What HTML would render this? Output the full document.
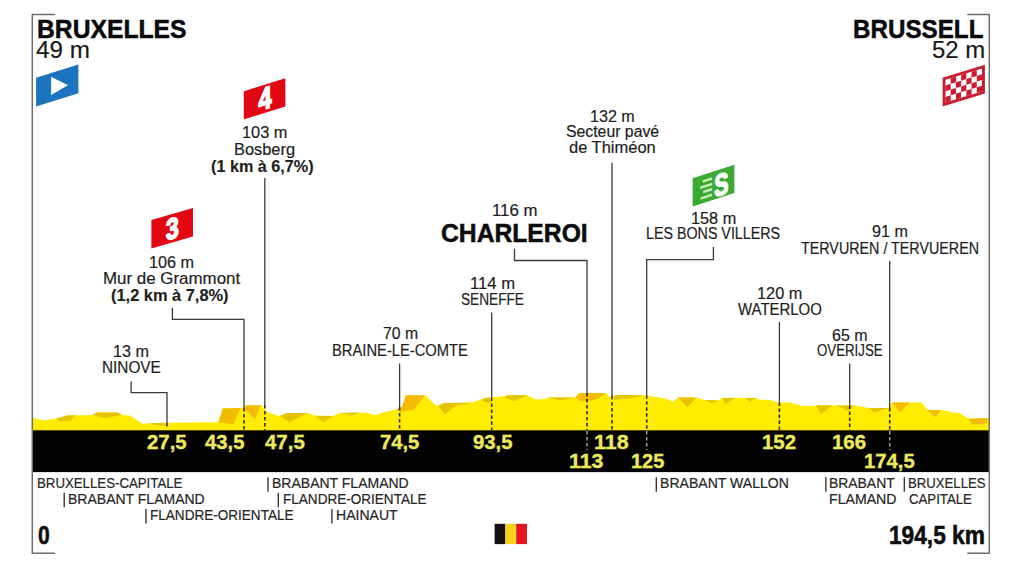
<!DOCTYPE html>
<html><head><meta charset="utf-8"><style>
html,body{margin:0;padding:0;background:#fff;}
#c{position:relative;width:1024px;height:575px;overflow:hidden;background:#fff;}
.t{position:absolute;white-space:nowrap;font-family:"Liberation Sans", sans-serif;}
svg{position:absolute;left:0;top:0;}
</style></head><body><div id="c">
<svg width="1024" height="575" viewBox="0 0 1024 575">
<polygon points="32,417.5 42.7,420.4 56.4,418.4 67.1,415.5 92.5,415 96.4,412.6 117.9,412.6 121.8,415 130,415.5 142.7,423.8 149.5,423.3 165.2,422.8 217.9,422.3 222.7,408.6 240.3,408 244,407.6 245.6,405.6 260.8,405.1 267.6,412 278.4,415.9 287.1,413 307.7,413 315.2,415.7 332.8,416 339.8,412.9 358.6,412.5 368,413.1 375,415.2 380.9,413.1 396.1,409.6 402,406.7 406,395.3 425.2,395.3 436.3,406.1 443.4,403.2 472.7,402.6 482,399 490.2,397.3 505.5,396.1 507,395.2 527,395.2 535.2,399.3 544.5,399.3 548,397.6 575,397.6 579.7,392.9 605.5,392.9 609,396.4 612.5,396.4 616,395 645.2,395.2 666.3,398.8 673.3,401.7 678,397.6 696.7,397.6 703.8,399.9 719,400.5 722.5,397.8 756.3,397.9 758.7,399.6 770.4,400 778.6,402.6 790.3,402.6 802,406.1 813.8,406.1 816.1,405.2 855.8,405.5 868.7,407.9 888.6,407.9 892.1,402.6 921.4,402.6 927.3,409.8 946.4,410.5 949.9,412.2 958.7,412.7 969.2,418.8 989,418 989,431 32,431" fill="#ffec00"/>
<polygon points="56.4,418.4 67.1,415.5 76,415.3 70,421 60,421.5" fill="#e6c300"/>
<polygon points="92.5,415 96.4,412.6 117.9,412.6 121.8,415 105,418" fill="#e6c300"/>
<polygon points="149.5,423.3 165,422.8 165,425.5 155,425" fill="#e6c300"/>
<polygon points="218.8,422.2 222.7,408.6 240.3,408 233.4,424.2" fill="#f4bc00"/>
<polygon points="243.7,408.5 245.6,405.6 260.8,405.1 254.9,419.3" fill="#f4bc00"/>
<polygon points="280.3,415.9 287.1,413 307.7,413 289.1,422.2" fill="#e6c300"/>
<polygon points="315.2,415.7 332.8,416 323.4,422.5" fill="#e6c300"/>
<polygon points="339.8,412.9 358.6,412.5 352,415.5" fill="#e6c300"/>
<polygon points="396.1,409.6 402,406.7 406,395.3 425.2,395.3 414,409.6 401.5,412" fill="#f4bc00"/>
<polygon points="438.7,406.1 443.4,403.2 472.7,402.6 456.3,405.5 444.5,414.3" fill="#e6c300"/>
<polygon points="482,399 490.2,397.3 491,403 484,402" fill="#e6c300"/>
<polygon points="507,395.2 527,395.2 515,401 505,398" fill="#e6c300"/>
<polygon points="548,397.6 575,397.6 560,400.5" fill="#e6c300"/>
<polygon points="575,397.6 579.7,392.9 605.5,392.9 600,397.5 592,400.8 580.9,401.2" fill="#f4bc00"/>
<polygon points="614.7,395 645,395.2 628,398.5 614,400" fill="#e6c300"/>
<polygon points="678,397.6 696.7,397.6 687.3,407" fill="#e6c300"/>
<polygon points="703.8,399.9 719,400.5 712,403" fill="#e6c300"/>
<polygon points="722.3,397.9 735,397.9 725,404.3" fill="#e6c300"/>
<polygon points="745,397.9 756,397.9 750,402" fill="#e6c300"/>
<polygon points="816.1,405.2 832.5,405.2 820.8,414.3" fill="#e6c300"/>
<polygon points="837,405.5 854.6,405.5 848,410.8" fill="#e6c300"/>
<polygon points="868.7,407.9 888.6,407.9 874,412.4" fill="#e6c300"/>
<polygon points="892.1,402.6 909.7,402.6 900,412.5" fill="#f4bc00"/>
<polygon points="927,410 941,410.3 935.4,417.1" fill="#f4bc00"/>
<polygon points="969.2,418.8 987.7,418 987,423.6 972,424.5" fill="#f4bc00"/>
<rect x="32.5" y="430.3" width="956.5" height="41.8" fill="#030303"/>
<polyline points="55.2,14.6 32.3,14.6 32.3,553.2 55.2,553.2" fill="none" stroke="#6e6e6e" stroke-width="1.5"/>
<polyline points="967.3,14.6 989.3,14.6 989.3,553.2 967.3,553.2" fill="none" stroke="#6e6e6e" stroke-width="1.5"/>
<polyline points="131.1,381.2 131.1,392.6 167,392.6 167,423" fill="none" stroke="#3a3a3a" stroke-width="1.3"/>
<polyline points="167,423 167,427" fill="none" stroke="#2b2b2b" stroke-width="1.6" stroke-dasharray="3.5,2.5"/>
<polyline points="172.4,307.8 172.4,319.3 244,319.3 244,408" fill="none" stroke="#3a3a3a" stroke-width="1.3"/>
<polyline points="244,408 244,430" fill="none" stroke="#2b2b2b" stroke-width="1.6" stroke-dasharray="3.5,2.5"/>
<polyline points="264.8,178 264.8,405" fill="none" stroke="#3a3a3a" stroke-width="1.3"/>
<polyline points="264.8,405 264.8,430" fill="none" stroke="#2b2b2b" stroke-width="1.6" stroke-dasharray="3.5,2.5"/>
<polyline points="399.6,363.5 399.6,407" fill="none" stroke="#3a3a3a" stroke-width="1.3"/>
<polyline points="399.6,407 399.6,430" fill="none" stroke="#2b2b2b" stroke-width="1.6" stroke-dasharray="3.5,2.5"/>
<polyline points="491.7,312.4 491.7,397.5" fill="none" stroke="#3a3a3a" stroke-width="1.3"/>
<polyline points="491.7,397.5 491.7,430" fill="none" stroke="#2b2b2b" stroke-width="1.6" stroke-dasharray="3.5,2.5"/>
<polyline points="514.5,248.8 514.5,260.5 587,260.5 587,393" fill="none" stroke="#3a3a3a" stroke-width="1.3"/>
<polyline points="587,393 587,430" fill="none" stroke="#2b2b2b" stroke-width="1.6" stroke-dasharray="3.5,2.5"/>
<polyline points="587,431 587,450" fill="none" stroke="#a0a0a0" stroke-width="1.5" stroke-dasharray="3.5,2.5"/>
<polyline points="612,162.8 612,396" fill="none" stroke="#3a3a3a" stroke-width="1.3"/>
<polyline points="612,396 612,430" fill="none" stroke="#2b2b2b" stroke-width="1.6" stroke-dasharray="3.5,2.5"/>
<polyline points="713.4,247 713.4,259.6 646.7,259.6 646.7,395.2" fill="none" stroke="#3a3a3a" stroke-width="1.3"/>
<polyline points="646.7,395.2 646.7,430" fill="none" stroke="#2b2b2b" stroke-width="1.6" stroke-dasharray="3.5,2.5"/>
<polyline points="646.7,431 646.7,450" fill="none" stroke="#a0a0a0" stroke-width="1.5" stroke-dasharray="3.5,2.5"/>
<polyline points="779.4,321.8 779.4,402.5" fill="none" stroke="#3a3a3a" stroke-width="1.3"/>
<polyline points="779.4,402.5 779.4,430" fill="none" stroke="#2b2b2b" stroke-width="1.6" stroke-dasharray="3.5,2.5"/>
<polyline points="849.7,363.6 849.7,405.5" fill="none" stroke="#3a3a3a" stroke-width="1.3"/>
<polyline points="849.7,405.5 849.7,430" fill="none" stroke="#2b2b2b" stroke-width="1.6" stroke-dasharray="3.5,2.5"/>
<polyline points="889.7,261 889.7,408" fill="none" stroke="#3a3a3a" stroke-width="1.3"/>
<polyline points="889.7,408 889.7,430" fill="none" stroke="#2b2b2b" stroke-width="1.6" stroke-dasharray="3.5,2.5"/>
<polyline points="889.7,431 889.7,450" fill="none" stroke="#a0a0a0" stroke-width="1.5" stroke-dasharray="3.5,2.5"/>
<polygon points="36.1,77.7 78.4,64.60000000000001 78.4,93.30000000000001 36.1,106.4" fill="#1b74bd"/>
<polygon points="51.1,76.8 68,85.2 51.1,95.1" fill="#ffffff"/>
<polygon points="151.4,220.1 193,207.9 193,236.4 151.4,248.6" fill="#e30613"/>
<polygon points="243.8,91.2 285.4,78.2 285.4,106.4 243.8,119.4" fill="#e30613"/>
<polygon points="692.6,178.2 734.4,164.79999999999998 734.4,193.0 692.6,206.4" fill="#3aaa35"/>
<polygon points="942.6,77.7 984.9,64.8 984.9,93.5 942.6,106.4" fill="#cc1a2e"/>
<rect x="494.6" y="523.8" width="10.8" height="20.3" fill="#111"/>
<rect x="505.4" y="523.8" width="10.8" height="20.3" fill="#f7d117"/>
<rect x="516.2" y="523.8" width="10.8" height="20.3" fill="#e3141c"/>
<line x1="64.2" y1="492.8" x2="64.2" y2="507.3" stroke="#2a2a2a" stroke-width="1.3"/>
<line x1="146.0" y1="508.9" x2="146.0" y2="523.4" stroke="#2a2a2a" stroke-width="1.3"/>
<line x1="268.0" y1="477.2" x2="268.0" y2="491.7" stroke="#2a2a2a" stroke-width="1.3"/>
<line x1="278.3" y1="492.8" x2="278.3" y2="507.3" stroke="#2a2a2a" stroke-width="1.3"/>
<line x1="331.9" y1="508.9" x2="331.9" y2="523.4" stroke="#2a2a2a" stroke-width="1.3"/>
<line x1="656.3" y1="477.2" x2="656.3" y2="491.7" stroke="#2a2a2a" stroke-width="1.3"/>
<line x1="825.9" y1="477.2" x2="825.9" y2="491.7" stroke="#2a2a2a" stroke-width="1.3"/>
<line x1="904.3" y1="477.2" x2="904.3" y2="491.7" stroke="#2a2a2a" stroke-width="1.3"/>
<text x="0" y="0" text-anchor="middle" font-family="Liberation Sans" font-weight="bold" font-size="29.5" fill="#fff" stroke="#fff" stroke-width="1.7" stroke-linejoin="round" transform="matrix(0.78,-0.2285,0,1,172.45,238.75)">3</text>
<text x="0" y="0" text-anchor="middle" font-family="Liberation Sans" font-weight="bold" font-size="31.0" fill="#fff" stroke="#fff" stroke-width="1.7" stroke-linejoin="round" transform="matrix(0.76,-0.2375,0,1,265.0,109.06)">4</text>
<text x="0" y="0" text-anchor="middle" font-family="Liberation Sans" font-weight="bold" font-size="30.5" fill="#fff" stroke="#fff" stroke-width="1.6" stroke-linejoin="round" transform="matrix(0.7,-0.2240,0,1,721.25,194.89)">S</text>
<g transform="matrix(1,-0.3050,0,1,942.6,77.7)"><rect x="2.9" y="2.9" width="36.5" height="22.9" fill="#fff"/><rect x="8.11" y="2.90" width="5.21" height="5.72" fill="#cc1a2e"/><rect x="18.54" y="2.90" width="5.21" height="5.72" fill="#cc1a2e"/><rect x="28.97" y="2.90" width="5.21" height="5.72" fill="#cc1a2e"/><rect x="2.90" y="8.62" width="5.21" height="5.72" fill="#cc1a2e"/><rect x="13.33" y="8.62" width="5.21" height="5.72" fill="#cc1a2e"/><rect x="23.76" y="8.62" width="5.21" height="5.72" fill="#cc1a2e"/><rect x="34.19" y="8.62" width="5.21" height="5.72" fill="#cc1a2e"/><rect x="8.11" y="14.35" width="5.21" height="5.72" fill="#cc1a2e"/><rect x="18.54" y="14.35" width="5.21" height="5.72" fill="#cc1a2e"/><rect x="28.97" y="14.35" width="5.21" height="5.72" fill="#cc1a2e"/><rect x="2.90" y="20.07" width="5.21" height="5.72" fill="#cc1a2e"/><rect x="13.33" y="20.07" width="5.21" height="5.72" fill="#cc1a2e"/><rect x="23.76" y="20.07" width="5.21" height="5.72" fill="#cc1a2e"/><rect x="34.19" y="20.07" width="5.21" height="5.72" fill="#cc1a2e"/></g>
<g transform="matrix(1,-0.3206,0,1,692.6,178.2)"><line x1="10.2" y1="6.6" x2="19.5" y2="6.6" stroke="#c9f3b6" stroke-width="2.5"/><line x1="7.6" y1="12.0" x2="19.5" y2="12.0" stroke="#c9f3b6" stroke-width="2.5"/><line x1="10.6" y1="17.3" x2="19.5" y2="17.3" stroke="#c9f3b6" stroke-width="2.5"/><line x1="8.0" y1="22.8" x2="19.5" y2="22.8" stroke="#c9f3b6" stroke-width="2.5"/></g>
</svg>
<div class="t" style="left:112.79px;top:344.36px;font-size:16.0px;line-height:16.0px;font-weight:normal;color:#1e1e1e;-webkit-text-stroke:0.2px #1e1e1e;transform-origin:0 50%;transform:scaleX(1.0104)">13 m</div>
<div class="t" style="left:101.54px;top:360.46px;font-size:16.0px;line-height:16.0px;font-weight:normal;color:#1e1e1e;-webkit-text-stroke:0.2px #1e1e1e;transform-origin:0 50%;transform:scaleX(0.9586)">NINOVE</div>
<div class="t" style="left:149.49px;top:254.56px;font-size:16.0px;line-height:16.0px;font-weight:normal;color:#1e1e1e;-webkit-text-stroke:0.2px #1e1e1e;transform-origin:0 50%;transform:scaleX(1.0130)">106 m</div>
<div class="t" style="left:103.34px;top:271.36px;font-size:16.0px;line-height:16.0px;font-weight:normal;color:#1e1e1e;-webkit-text-stroke:0.2px #1e1e1e;transform-origin:0 50%;transform:scaleX(1.0567)">Mur de Grammont</div>
<div class="t" style="left:111.40px;top:287.76px;font-size:16.0px;line-height:16.0px;font-weight:bold;color:#1e1e1e;-webkit-text-stroke:0.15px #1e1e1e;transform-origin:0 50%;transform:scaleX(1.0245)">(1,2 km à 7,8%)</div>
<div class="t" style="left:242.18px;top:125.16px;font-size:16.0px;line-height:16.0px;font-weight:normal;color:#1e1e1e;-webkit-text-stroke:0.2px #1e1e1e;transform-origin:0 50%;transform:scaleX(1.0222)">103 m</div>
<div class="t" style="left:234.48px;top:142.26px;font-size:16.0px;line-height:16.0px;font-weight:normal;color:#1e1e1e;-webkit-text-stroke:0.2px #1e1e1e;transform-origin:0 50%;transform:scaleX(1.0243)">Bosberg</div>
<div class="t" style="left:211.40px;top:159.46px;font-size:16.0px;line-height:16.0px;font-weight:bold;color:#1e1e1e;-webkit-text-stroke:0.15px #1e1e1e;transform-origin:0 50%;transform:scaleX(1.0113)">(1 km à 6,7%)</div>
<div class="t" style="left:382.50px;top:326.36px;font-size:16.0px;line-height:16.0px;font-weight:normal;color:#1e1e1e;-webkit-text-stroke:0.2px #1e1e1e;transform-origin:0 50%;transform:scaleX(0.9846)">70 m</div>
<div class="t" style="left:331.58px;top:342.96px;font-size:16.0px;line-height:16.0px;font-weight:normal;color:#1e1e1e;-webkit-text-stroke:0.2px #1e1e1e;transform-origin:0 50%;transform:scaleX(0.9212)">BRAINE-LE-COMTE</div>
<div class="t" style="left:469.56px;top:276.46px;font-size:16.0px;line-height:16.0px;font-weight:normal;color:#1e1e1e;-webkit-text-stroke:0.2px #1e1e1e;transform-origin:0 50%;transform:scaleX(1.0416)">114 m</div>
<div class="t" style="left:461.00px;top:291.96px;font-size:16.0px;line-height:16.0px;font-weight:normal;color:#1e1e1e;-webkit-text-stroke:0.2px #1e1e1e;transform-origin:0 50%;transform:scaleX(0.8521)">SENEFFE</div>
<div class="t" style="left:491.55px;top:203.46px;font-size:16.0px;line-height:16.0px;font-weight:normal;color:#1e1e1e;-webkit-text-stroke:0.2px #1e1e1e;transform-origin:0 50%;transform:scaleX(1.0512)">116 m</div>
<div class="t" style="left:440.97px;top:219.68px;font-size:26.5px;line-height:26.5px;font-weight:bold;color:#0c0c0c;-webkit-text-stroke:0.5px #0c0c0c;transform-origin:0 50%;transform:scaleX(0.9313)">CHARLEROI</div>
<div class="t" style="left:589.69px;top:108.66px;font-size:16.0px;line-height:16.0px;font-weight:normal;color:#1e1e1e;-webkit-text-stroke:0.2px #1e1e1e;transform-origin:0 50%;transform:scaleX(1.0060)">132 m</div>
<div class="t" style="left:565.50px;top:124.46px;font-size:16.0px;line-height:16.0px;font-weight:normal;color:#1e1e1e;-webkit-text-stroke:0.2px #1e1e1e;transform-origin:0 50%;transform:scaleX(0.9875)">Secteur pavé</div>
<div class="t" style="left:569.10px;top:140.26px;font-size:16.0px;line-height:16.0px;font-weight:normal;color:#1e1e1e;-webkit-text-stroke:0.2px #1e1e1e;transform-origin:0 50%;transform:scaleX(1.0300)">de Thiméon</div>
<div class="t" style="left:690.98px;top:210.66px;font-size:16.0px;line-height:16.0px;font-weight:normal;color:#1e1e1e;-webkit-text-stroke:0.2px #1e1e1e;transform-origin:0 50%;transform:scaleX(1.0176)">158 m</div>
<div class="t" style="left:646.41px;top:226.16px;font-size:16.0px;line-height:16.0px;font-weight:normal;color:#1e1e1e;-webkit-text-stroke:0.2px #1e1e1e;transform-origin:0 50%;transform:scaleX(0.8922)">LES BONS VILLERS</div>
<div class="t" style="left:756.78px;top:285.66px;font-size:16.0px;line-height:16.0px;font-weight:normal;color:#1e1e1e;-webkit-text-stroke:0.2px #1e1e1e;transform-origin:0 50%;transform:scaleX(1.0199)">120 m</div>
<div class="t" style="left:738.10px;top:301.76px;font-size:16.0px;line-height:16.0px;font-weight:normal;color:#1e1e1e;-webkit-text-stroke:0.2px #1e1e1e;transform-origin:0 50%;transform:scaleX(0.9336)">WATERLOO</div>
<div class="t" style="left:831.80px;top:327.86px;font-size:16.0px;line-height:16.0px;font-weight:normal;color:#1e1e1e;-webkit-text-stroke:0.2px #1e1e1e;transform-origin:0 50%;transform:scaleX(0.9988)">65 m</div>
<div class="t" style="left:816.60px;top:343.46px;font-size:16.0px;line-height:16.0px;font-weight:normal;color:#1e1e1e;-webkit-text-stroke:0.2px #1e1e1e;transform-origin:0 50%;transform:scaleX(0.8297)">OVERIJSE</div>
<div class="t" style="left:871.60px;top:224.46px;font-size:16.0px;line-height:16.0px;font-weight:normal;color:#1e1e1e;-webkit-text-stroke:0.2px #1e1e1e;transform-origin:0 50%;transform:scaleX(1.0102)">91 m</div>
<div class="t" style="left:800.70px;top:240.56px;font-size:16.0px;line-height:16.0px;font-weight:normal;color:#1e1e1e;-webkit-text-stroke:0.2px #1e1e1e;transform-origin:0 50%;transform:scaleX(0.8940)">TERVUREN / TERVUEREN</div>
<div class="t" style="left:36.76px;top:15.81px;font-size:26.25px;line-height:26.25px;font-weight:bold;color:#0a0a0a;-webkit-text-stroke:0.5px #0a0a0a;transform-origin:0 50%;transform:scaleX(0.9405)">BRUXELLES</div>
<div class="t" style="left:36.20px;top:38.94px;font-size:23.0px;line-height:23.0px;font-weight:normal;color:#1a1a1a;-webkit-text-stroke:0.2px #1a1a1a;transform-origin:0 50%;transform:scaleX(1.0526)">49 m</div>
<div class="t" style="left:853.49px;top:15.68px;font-size:26.5px;line-height:26.5px;font-weight:bold;color:#0a0a0a;-webkit-text-stroke:0.5px #0a0a0a;transform-origin:0 50%;transform:scaleX(0.9133)">BRUSSELL</div>
<div class="t" style="left:931.80px;top:38.64px;font-size:23.0px;line-height:23.0px;font-weight:normal;color:#1a1a1a;-webkit-text-stroke:0.2px #1a1a1a;transform-origin:0 50%;transform:scaleX(1.0406)">52 m</div>
<div class="t" style="left:147.20px;top:431.52px;font-size:20.25px;line-height:20.25px;font-weight:bold;color:#eeea5e;-webkit-text-stroke:0.35px #eeea5e;transform-origin:0 50%;transform:scaleX(1.0064)">27,5</div>
<div class="t" style="left:204.70px;top:431.52px;font-size:20.25px;line-height:20.25px;font-weight:bold;color:#eeea5e;-webkit-text-stroke:0.35px #eeea5e;transform-origin:0 50%;transform:scaleX(1.0013)">43,5</div>
<div class="t" style="left:264.50px;top:431.52px;font-size:20.25px;line-height:20.25px;font-weight:bold;color:#eeea5e;-webkit-text-stroke:0.35px #eeea5e;transform-origin:0 50%;transform:scaleX(1.0089)">47,5</div>
<div class="t" style="left:380.00px;top:431.52px;font-size:20.25px;line-height:20.25px;font-weight:bold;color:#eeea5e;-webkit-text-stroke:0.35px #eeea5e;transform-origin:0 50%;transform:scaleX(0.9987)">74,5</div>
<div class="t" style="left:472.50px;top:431.52px;font-size:20.25px;line-height:20.25px;font-weight:bold;color:#eeea5e;-webkit-text-stroke:0.35px #eeea5e;transform-origin:0 50%;transform:scaleX(1.0038)">93,5</div>
<div class="t" style="left:594.14px;top:431.52px;font-size:20.25px;line-height:20.25px;font-weight:bold;color:#eeea5e;-webkit-text-stroke:0.35px #eeea5e;transform-origin:0 50%;transform:scaleX(1.0571)">118</div>
<div class="t" style="left:762.39px;top:431.52px;font-size:20.25px;line-height:20.25px;font-weight:bold;color:#eeea5e;-webkit-text-stroke:0.35px #eeea5e;transform-origin:0 50%;transform:scaleX(1.0085)">152</div>
<div class="t" style="left:832.49px;top:431.52px;font-size:20.25px;line-height:20.25px;font-weight:bold;color:#eeea5e;-webkit-text-stroke:0.35px #eeea5e;transform-origin:0 50%;transform:scaleX(1.0085)">166</div>
<div class="t" style="left:569.45px;top:451.12px;font-size:20.25px;line-height:20.25px;font-weight:bold;color:#eeea5e;-webkit-text-stroke:0.35px #eeea5e;transform-origin:0 50%;transform:scaleX(1.0475)">113</div>
<div class="t" style="left:630.51px;top:451.12px;font-size:20.25px;line-height:20.25px;font-weight:bold;color:#eeea5e;-webkit-text-stroke:0.35px #eeea5e;transform-origin:0 50%;transform:scaleX(0.9870)">125</div>
<div class="t" style="left:864.40px;top:451.12px;font-size:20.25px;line-height:20.25px;font-weight:bold;color:#eeea5e;-webkit-text-stroke:0.35px #eeea5e;transform-origin:0 50%;transform:scaleX(0.9997)">174,5</div>
<div class="t" style="left:37.07px;top:476.04px;font-size:14.25px;line-height:14.25px;font-weight:normal;color:#262626;-webkit-text-stroke:0.2px #262626;transform-origin:0 50%;transform:scaleX(0.9288)">BRUXELLES-CAPITALE</div>
<div class="t" style="left:67.72px;top:491.64px;font-size:14.25px;line-height:14.25px;font-weight:normal;color:#262626;-webkit-text-stroke:0.2px #262626;transform-origin:0 50%;transform:scaleX(0.9829)">BRABANT FLAMAND</div>
<div class="t" style="left:150.15px;top:507.74px;font-size:14.25px;line-height:14.25px;font-weight:normal;color:#262626;-webkit-text-stroke:0.2px #262626;transform-origin:0 50%;transform:scaleX(0.9507)">FLANDRE-ORIENTALE</div>
<div class="t" style="left:272.32px;top:476.04px;font-size:14.25px;line-height:14.25px;font-weight:normal;color:#262626;-webkit-text-stroke:0.2px #262626;transform-origin:0 50%;transform:scaleX(0.9829)">BRABANT FLAMAND</div>
<div class="t" style="left:282.65px;top:491.64px;font-size:14.25px;line-height:14.25px;font-weight:normal;color:#262626;-webkit-text-stroke:0.2px #262626;transform-origin:0 50%;transform:scaleX(0.9507)">FLANDRE-ORIENTALE</div>
<div class="t" style="left:335.92px;top:507.74px;font-size:14.25px;line-height:14.25px;font-weight:normal;color:#262626;-webkit-text-stroke:0.2px #262626;transform-origin:0 50%;transform:scaleX(0.9848)">HAINAUT</div>
<div class="t" style="left:660.11px;top:476.04px;font-size:14.25px;line-height:14.25px;font-weight:normal;color:#262626;-webkit-text-stroke:0.2px #262626;transform-origin:0 50%;transform:scaleX(0.9867)">BRABANT WALLON</div>
<div class="t" style="left:829.02px;top:476.04px;font-size:14.25px;line-height:14.25px;font-weight:normal;color:#262626;-webkit-text-stroke:0.2px #262626;transform-origin:0 50%;transform:scaleX(0.9760)">BRABANT</div>
<div class="t" style="left:829.01px;top:491.64px;font-size:14.25px;line-height:14.25px;font-weight:normal;color:#262626;-webkit-text-stroke:0.2px #262626;transform-origin:0 50%;transform:scaleX(0.9910)">FLAMAND</div>
<div class="t" style="left:908.08px;top:476.04px;font-size:14.25px;line-height:14.25px;font-weight:normal;color:#262626;-webkit-text-stroke:0.2px #262626;transform-origin:0 50%;transform:scaleX(0.9242)">BRUXELLES</div>
<div class="t" style="left:909.00px;top:491.64px;font-size:14.25px;line-height:14.25px;font-weight:normal;color:#262626;-webkit-text-stroke:0.2px #262626;transform-origin:0 50%;transform:scaleX(0.9267)">CAPITALE</div>
<div class="t" style="left:37.98px;top:522.59px;font-size:25.5px;line-height:25.5px;font-weight:bold;color:#0e0e0e;-webkit-text-stroke:0.6px #0e0e0e;transform-origin:0 50%;transform:scaleX(0.8231)">0</div>
<div class="t" style="left:888.54px;top:521.88px;font-size:26.5px;line-height:26.5px;font-weight:bold;color:#0e0e0e;-webkit-text-stroke:0.6px #0e0e0e;transform-origin:0 50%;transform:scaleX(0.8564)">194,5 km</div>
</div></body></html>
